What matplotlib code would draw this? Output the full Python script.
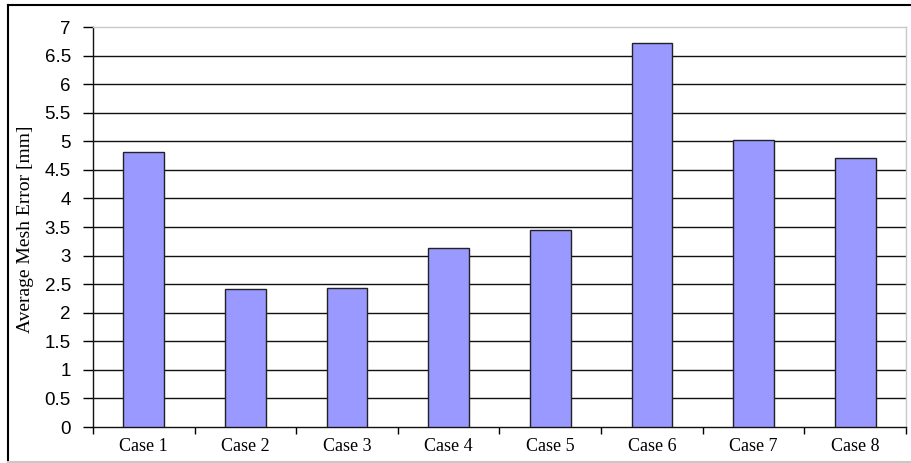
import numpy as np
import matplotlib.pyplot as plt
from matplotlib.lines import Line2D

# Average mesh error per test case
cases = ["Case 1", "Case 2", "Case 3", "Case 4", "Case 5", "Case 6", "Case 7", "Case 8"]
mesh_error = [4.82, 2.41, 2.44, 3.13, 3.44, 6.72, 5.03, 4.71]
y_ticks = [0, 0.5, 1, 1.5, 2, 2.5, 3, 3.5, 4, 4.5, 5, 5.5, 6, 6.5, 7]

W, H = 911, 463
fig = plt.figure(figsize=(W / 100, H / 100), dpi=100)
ax = fig.add_axes([93 / W, (H - 427) / H, (906 - 93) / W, 400 / H])

x = np.arange(len(cases))
ax.bar(x, mesh_error, width=0.4, color="#9999ff", edgecolor="#222222",
       linewidth=1.0, zorder=3)

ax.set_xlim(-0.5, len(cases) - 0.5)
ax.set_ylim(0, 7)

# horizontal gridlines, top one is the grey plot-area border
ax.set_yticks(y_ticks)
ax.set_yticklabels([f"{t:g}" for t in y_ticks], family="Liberation Sans", fontsize=13.5)
for t in y_ticks[1:-1]:
    ax.axhline(t, color="#111111", linewidth=1.0, zorder=1)

# category ticks sit between bars
ax.set_xticks(np.arange(len(cases) + 1) - 0.5)
ax.set_xticklabels([])
ax.set_xticks(x, minor=True)
ax.set_xticklabels(cases, minor=True, family="Liberation Serif", fontsize=13)
ax.tick_params(axis="x", which="minor", length=0, pad=8)
ax.tick_params(axis="x", which="major", length=5, width=1.0, direction="out")
ax.tick_params(axis="y", length=7, width=1.0, direction="out", pad=9)

ax.spines["left"].set_color("#111111")
ax.spines["bottom"].set_color("#111111")
ax.spines["top"].set_color("#c8c8c8")
ax.spines["right"].set_color("#c8c8c8")
for s in ax.spines.values():
    s.set_linewidth(1.0)

fig.text(26 / W, 1 - 229 / H, "Average Mesh Error [mm]", rotation=90,
         ha="center", va="center", family="Liberation Serif", fontsize=14)

# chart area border
fig.add_artist(Line2D([8 / W, 8 / W], [0, 1 - 5 / H], transform=fig.transFigure,
                      color="black", linewidth=1.5))
fig.add_artist(Line2D([8 / W, 1], [1 - 5 / H, 1 - 5 / H], transform=fig.transFigure,
                      color="black", linewidth=1.5))
fig.add_artist(Line2D([8 / W, 1], [1.5 / H, 1.5 / H], transform=fig.transFigure,
                      color="#c8c8c8", linewidth=1.5))

fig.savefig("out.png", dpi=100)
